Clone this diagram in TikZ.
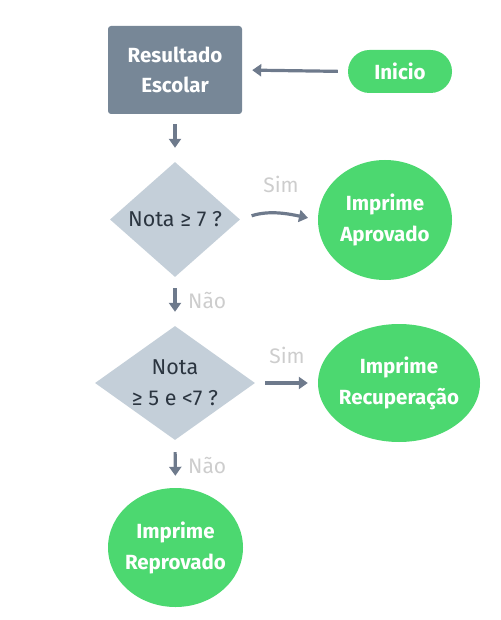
\documentclass[tikz,border=0pt]{standalone}
\usepackage{fontspec}
\setmainfont{Fira Sans}
\usetikzlibrary{shapes.geometric,arrows.meta}
\definecolor{boxgray}{HTML}{778797}
\definecolor{okgreen}{HTML}{4CD870}
\definecolor{diafill}{HTML}{C4CFD9}
\definecolor{arrowgray}{HTML}{6E7A8C}
\definecolor{lblgray}{HTML}{CDCDCD}
\definecolor{darktext}{HTML}{2B3540}
\tikzset{
  procbox/.style={rectangle, rounded corners=3pt, fill=boxgray, text=white, font=\fontsize{20.5}{30}\selectfont\bfseries, align=center, minimum width=134pt, minimum height=88pt, inner sep=0pt},
  termnode/.style={rectangle, rounded corners=21.5pt, fill=okgreen, text=white, font=\fontsize{20.5}{30}\selectfont\bfseries, minimum width=104pt, minimum height=43pt, inner sep=0pt},
  outshape/.style={ellipse, fill=okgreen, inner sep=0pt},
  outtext/.style={text=white, font=\fontsize{20.5}{31}\selectfont\bfseries, align=center, inner sep=0pt},
  decshape/.style={diamond, fill=diafill, inner sep=0pt},
  dectext/.style={text=darktext, font=\fontsize{21.5}{31}\selectfont, align=center, inner sep=0pt},
  flow/.style={draw=arrowgray, line width=3.2pt, -{Triangle[length=9pt,width=12pt]}},
  lbl/.style={text=lblgray, font=\fontsize{21}{24}\selectfont, inner sep=0pt},
}
\begin{document}
\begin{tikzpicture}[x=1pt,y=-1pt]
\useasboundingbox (0,0) rectangle (500,620);
\node[procbox] (res) at (175,70) {Resultado\\Escolar};
\node[termnode] (ini) at (400,71.5) {Inicio};

\node[decshape, minimum width=130pt, minimum height=115pt] (d1) at (175,219.5) {};
\node[dectext] (d1t) at (d1) {Nota ≥ 7 ?};
\node[outshape, minimum width=134pt, minimum height=120pt] (apr) at (385,220) {};
\node[outtext] (aprt) at (apr) {Imprime\\Aprovado};

\node[decshape, minimum width=160pt, minimum height=114pt] (d2) at (175,383) {};
\node[dectext] (d2t) at (d2) {Nota\\≥ 5 e <7 ?};
\node[outshape, minimum width=162pt, minimum height=118pt] (rec) at (399,383) {};
\node[outtext] (rect) at (rec) {Imprime\\Recuperação};

\node[outshape, minimum width=135pt, minimum height=119pt] (rep) at (175.5,547.5) {};
\node[outtext] (rept) at (rep) {Imprime\\Reprovado};

\draw[flow, shorten <=10pt, shorten >=10pt] (ini.west) -- (res.east);
\draw[flow, shorten <=10pt, shorten >=14pt] (res.south) -- (d1.north);
\draw[flow, shorten <=12pt, shorten >=10pt] (d1.east) to[out=18,in=168] (apr.west);
\draw[flow, shorten <=11pt, shorten >=14pt] (d1.south) -- (d2.north);
\draw[flow, shorten <=10pt, shorten >=10pt] (d2.east) -- (rec.west);
\draw[flow, shorten <=12pt, shorten >=12pt] (d2.south) -- (rep.north);

\node[lbl] (sim1) at (281,184) {Sim};
\node[lbl] (sim2) at (287,355) {Sim};
\node[lbl, anchor=west] (nao1) at (188,300) {Não};
\node[lbl, anchor=west] (nao2) at (188,465) {Não};
\end{tikzpicture}
\end{document}
